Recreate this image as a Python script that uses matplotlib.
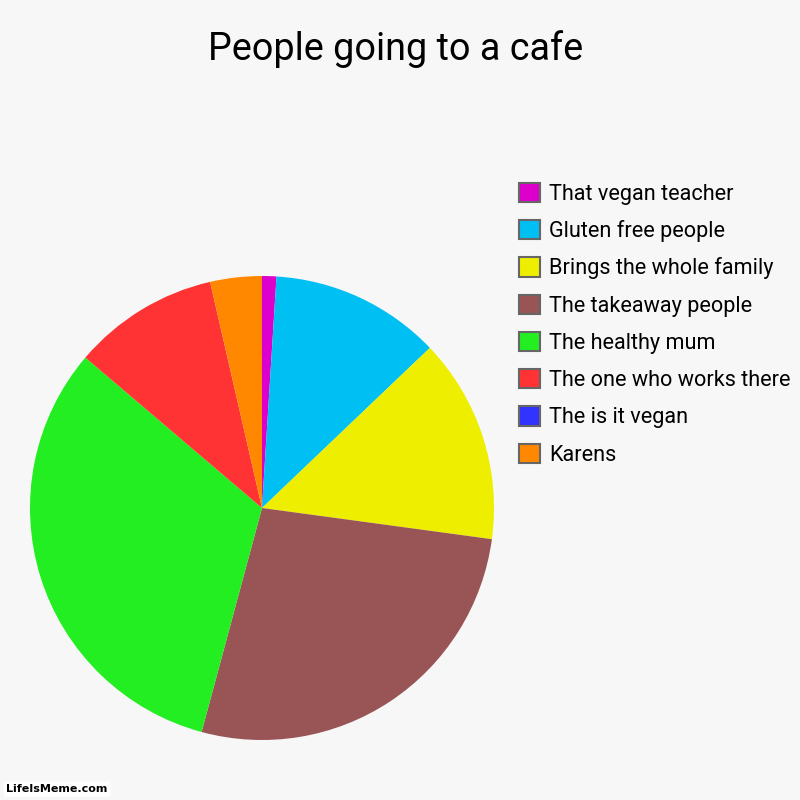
import matplotlib.pyplot as plt
from matplotlib.patches import Patch

labels = ['That vegan teacher', 'Gluten free people', 'Brings the whole family',
          'The takeaway people', 'The healthy mum', 'The one who works there',
          'The is it vegan', 'Karens']
values = [1.0, 11.9, 14.3, 27.1, 32.1, 10.2, 0.0, 3.6]
colors = ['#dd00cc', '#00bff3', '#eeee00', '#995555', '#22ee22', '#ff3333',
          '#3333ff', '#ff8800']
bg = '#f7f7f7'

plt.rcParams['font.family'] = ['Roboto', 'DejaVu Sans']

fig = plt.figure(figsize=(8, 8), dpi=100, facecolor=bg)
fig.text(0.494, 0.939, 'People going to a cafe', ha='center', va='center', fontsize=27.2)

ax = fig.add_axes([0.0375, 0.075, 0.58, 0.58])
ax.set_facecolor(bg)
ax.pie(values, colors=colors, startangle=90, counterclock=False,
       wedgeprops={'linewidth': 0})
ax.set_xlim(-1, 1)
ax.set_ylim(-1, 1)
ax.set_aspect('equal')

# legend, same order as the series
handles = [Patch(facecolor=c, edgecolor='#666666', linewidth=1.5) for c in colors]
fig.legend(handles, labels, loc='upper left', bbox_to_anchor=(0.6375, 0.7825),
           frameon=False, fontsize=15.6, handlelength=1.0, handleheight=1.0,
           handletextpad=0.41, labelspacing=0.7, borderaxespad=0)

# watermark
fig.text(0.008, 0.0135, 'LifeIsMeme.com', fontsize=8, fontweight='bold',
         fontfamily='DejaVu Sans', va='center', ha='left',
         bbox=dict(boxstyle='round,pad=0.25', facecolor='white', edgecolor='none'))

fig.savefig('out.png', dpi=100, facecolor=bg)
